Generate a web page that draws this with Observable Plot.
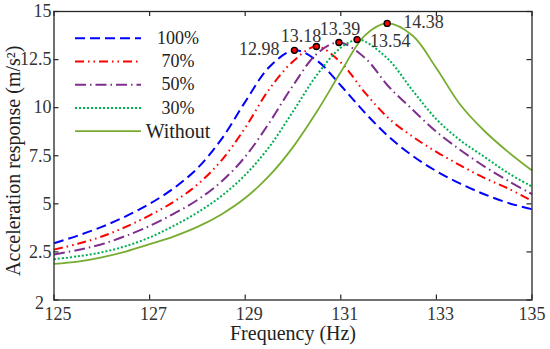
<!DOCTYPE html>
<html>
<head>
<meta charset="utf-8">
<script src="https://cdn.jsdelivr.net/npm/d3@7"></script>
<script src="https://cdn.jsdelivr.net/npm/@observablehq/plot@0.6"></script>
<style>
  html, body { margin: 0; padding: 0; background: #fff; }
  #chart { width: 550px; height: 349px; }
</style>
</head>
<body>
<div id="chart"></div>
<script>
// ---------- data ----------
const freq = [125, 125.5, 126, 126.5, 127, 127.5, 128, 128.5, 129, 129.5, 130, 130.5, 131, 131.5, 132, 132.5, 133, 133.5, 134, 134.5, 135];
const s100 = [2.95, 3.35, 3.8, 4.35, 5.0, 5.8, 6.85, 8.35, 10.3, 12.1, 12.97, 12.45, 11.15, 9.75, 8.5, 7.5, 6.7, 6.05, 5.5, 5.05, 4.72];
const s70 = [2.62, 2.92, 3.3, 3.8, 4.4, 5.1, 6.0, 7.25, 8.95, 10.95, 12.4, 13.18, 12.35, 10.8, 9.45, 8.5, 7.7, 7.0, 6.35, 5.8, 5.15];
const s50 = [2.37, 2.6, 2.9, 3.33, 3.85, 4.48, 5.2, 6.15, 7.45, 9.2, 11.15, 12.8, 13.38, 12.6, 11.1, 9.9, 8.75, 7.8, 6.95, 6.2, 5.5];
const s30 = [2.12, 2.27, 2.48, 2.8, 3.25, 3.85, 4.55, 5.4, 6.5, 7.95, 9.8, 11.7, 13.12, 13.45, 12.5, 10.9, 9.4, 8.3, 7.45, 6.6, 5.9];
const sWithout = [1.88, 2.0, 2.22, 2.52, 2.9, 3.3, 3.8, 4.45, 5.3, 6.45, 7.95, 9.8, 11.85, 13.75, 14.38, 13.75, 12.05, 10.15, 8.8, 7.7, 6.73];

const seriesNames = ["100%", "70%", "50%", "30%", "Without"];
const seriesValues = [s100, s70, s50, s30, sWithout];
const peakFreq = [130.03, 130.49, 130.96, 131.34, 131.97];
const peakVal = [12.98, 13.18, 13.39, 13.54, 14.38];
const peakLabels = ["12.98", "13.18", "13.39", "13.54", "14.38"];

const xTicks = [125, 127, 129, 131, 133, 135];
const yTicks = [0, 2.5, 5, 7.5, 10, 12.5, 15];
const yTickLabels = ["2", "2.5", "5", "7.5", "10", "12.5", "15"];
const xTitle = "Frequency (Hz)";
const yTitle = "Acceleration response (m/s\u00B2)";

// ---------- styles ----------
const colors = ["#0000FF", "#FF0000", "#7E2F8E", "#00B050", "#77AC30"];
const dashes = ["10,5", "9,4,1.5,4,1.5,4", "11,4,1.5,4", "2,2", null];
const widths = [2, 2, 2, 2, 1.8];
const FONT = "'Liberation Serif', 'DejaVu Serif', serif";
const ink = "#262626";
const NUM_SIZE = 18, WORD_SIZE = 20;

// ---------- rows ----------
const lineData = seriesNames.map((name, i) => {
  const pts = freq
    .map((f, j) => ({ f, v: seriesValues[i][j], s: name }))
    .filter(d => Math.abs(d.f - peakFreq[i]) > 0.1);
  pts.push({ f: peakFreq[i], v: peakVal[i], s: name });
  pts.sort((a, b) => a.f - b.f);
  return pts;
});
const peaks = peakFreq.map((f, i) => ({ f, v: peakVal[i], label: peakLabels[i], i }));

const W = 550, H = 349;
const mL = 53.5, mR = 18.5, mT = 11, mB = 49.5;
const innerH = H - mT - mB;
const innerW = W - mL - mR;

// label offsets (layout only)
const labelPos = [
  { anchor: "end", dx: -15, dy: -1.5 },
  { anchor: "middle", dx: -15.5, dy: -10 },
  { anchor: "middle", dx: 1, dy: -13.5 },
  { anchor: "start", dx: 13, dy: 1.5 },
  { anchor: "start", dx: 16, dy: -1.5 }
];

const yLab = d => yTickLabels[yTicks.indexOf(d)];

const marks = [];
lineData.forEach((pts, i) => {
  marks.push(Plot.line(pts, {
    x: "f", y: "v", curve: "catmull-rom",
    stroke: colors[i], strokeWidth: widths[i],
    strokeDasharray: dashes[i] || undefined,
    strokeLinecap: "butt"
  }));
});
marks.push(Plot.dot(peaks, { x: "f", y: "v", r: 3, fill: "#FF0000", stroke: "#000", strokeWidth: 1.4 }));
peaks.forEach((p, i) => {
  marks.push(Plot.text([p], {
    x: "f", y: "v", text: "label",
    textAnchor: labelPos[i].anchor, dx: labelPos[i].dx, dy: labelPos[i].dy,
    fontSize: NUM_SIZE, fill: "#333"
  }));
});
marks.push(Plot.frame({ stroke: ink, strokeWidth: 1.3 }));
marks.push(Plot.ruleX(xTicks, { stroke: ink, strokeWidth: 1.2, insetTop: innerH - 5 }));
marks.push(Plot.ruleX(xTicks, { stroke: ink, strokeWidth: 1.2, insetBottom: innerH - 5 }));
marks.push(Plot.ruleY(yTicks, { stroke: ink, strokeWidth: 1.2, insetRight: innerW - 5 }));
marks.push(Plot.ruleY(yTicks, { stroke: ink, strokeWidth: 1.2, insetLeft: innerW - 5 }));
// x tick labels sit slightly right of their ticks in the reference (last one centred)
marks.push(Plot.axisX(xTicks.slice(0, -1), { tickSize: 0, tickPadding: 7, dx: 4, fontSize: NUM_SIZE, fill: "#333", label: null, tickFormat: d => String(d) }));
marks.push(Plot.axisX(xTicks.slice(-1), { tickSize: 0, tickPadding: 7, fontSize: NUM_SIZE, fill: "#333", label: null, tickFormat: d => String(d) }));
// y tick labels: the bottom one sits a little lower and further left, as in the reference
marks.push(Plot.axisY(yTicks.slice(1), { tickSize: 0, tickPadding: 2.5, fontSize: NUM_SIZE, fill: "#333", label: null, tickFormat: yLab }));
marks.push(Plot.axisY(yTicks.slice(0, 1), { tickSize: 0, tickPadding: 10, dy: 3, fontSize: NUM_SIZE, fill: "#333", label: null, tickFormat: yLab }));
marks.push(Plot.text([xTitle], { frameAnchor: "bottom", textAnchor: "middle", lineAnchor: "middle", dy: 33.5, fontSize: WORD_SIZE, fill: "#222", text: d => d }));
marks.push(Plot.text([yTitle], { frameAnchor: "left", textAnchor: "middle", lineAnchor: "middle", dx: -40, dy: 5, rotate: -90, fontSize: WORD_SIZE, fill: "#222", text: d => d }));

const svg = Plot.plot({
  width: W, height: H,
  marginLeft: mL, marginRight: mR, marginTop: mT, marginBottom: mB,
  style: { fontFamily: FONT, fontSize: "18px", background: "#fff", overflow: "visible" },
  x: { domain: [125, 135], axis: null },
  y: { domain: [0, 15], axis: null },
  marks
});

// ---------- legend (layout, drawn into the same svg) ----------
const lg = d3.select(svg).append("g").attr("font-family", FONT);
seriesNames.forEach((name, i) => {
  const yy = 38.3 + i * 23.2;
  lg.append("line")
    .attr("x1", 75).attr("x2", 141).attr("y1", yy).attr("y2", yy)
    .attr("stroke", colors[i]).attr("stroke-width", widths[i])
    .attr("stroke-dasharray", dashes[i]);
  lg.append("text")
    .attr("x", 178).attr("y", yy).attr("dy", "0.32em")
    .attr("text-anchor", "middle").attr("fill", "#222")
    .attr("font-size", /\d/.test(name) ? NUM_SIZE : WORD_SIZE)
    .text(name);
});

document.getElementById("chart").appendChild(svg);
</script>
</body>
</html>
